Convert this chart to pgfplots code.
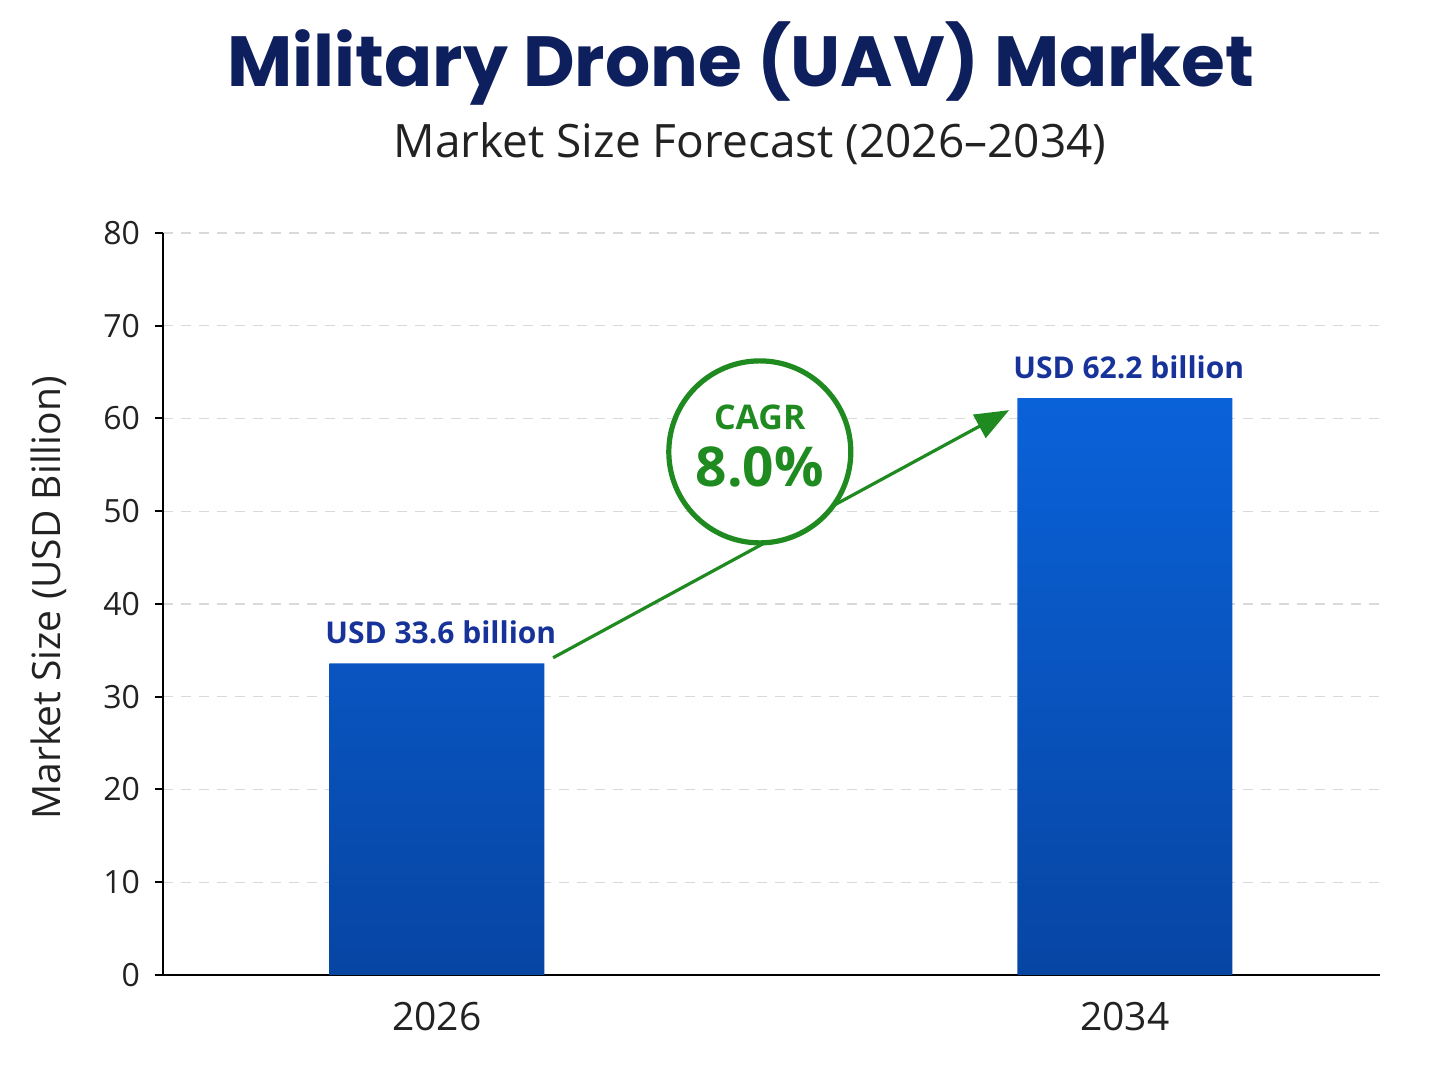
\documentclass[border=0pt]{standalone}
\usepackage{fontspec}
\setmainfont{Open Sans}
\newfontfamily\titlefont{Poppins}
\usepackage{pgfplots}
\pgfplotsset{compat=1.18}
\usetikzlibrary{arrows.meta}

\definecolor{titleNavy}{HTML}{0E1F5E}
\definecolor{subGray}{HTML}{222222}
\definecolor{barTop}{HTML}{0A62D9}
\definecolor{barBot}{HTML}{0745A3}
\definecolor{labelBlue}{HTML}{17339A}
\definecolor{cagrGreen}{HTML}{1F8A1F}
\definecolor{gridGray}{HTML}{D9D9D9}

\begin{document}
\begin{tikzpicture}
\useasboundingbox (0,0) rectangle (724pt,543pt);

% headings
\node[anchor=center, text=titleNavy, font=\titlefont\bfseries\fontsize{35.5}{40}\selectfont]
  at (370.5pt,511pt) {Military Drone (UAV) Market};
\node[anchor=center, text=subGray, font=\fontsize{23}{27}\selectfont]
  at (375pt,471pt) {Market Size Forecast (2026–2034)};

\begin{axis}[
  at={(81.5pt,55.5pt)}, anchor=south west,
  scale only axis, width=608.5pt, height=371pt,
  xmin=-0.398, xmax=1.371,
  ymin=0, ymax=80,
  ytick={0,10,...,80},
  xtick={0,1}, xticklabels={2026,2034},
  axis x line*=bottom, axis y line*=left,
  axis line style={black, line width=1.1pt, -},
  tick align=outside, major tick length=4pt,
  ytick style={black, line width=1pt},
  xtick style={draw=none},
  ymajorgrids,
  major grid style={gridGray, dash pattern=on 5pt off 4pt, line width=0.6pt},
  /pgf/number format/assume math mode=true,
  yticklabel style={font=\fontsize{16}{19}\selectfont, text=subGray, xshift=-4pt},
  xticklabel style={font=\fontsize{19.5}{23}\selectfont, text=subGray, yshift=-6pt},
  ylabel={Market Size (USD Billion)},
  every axis y label/.style={at={(axis description cs:-0.094,0.508)}, rotate=90, anchor=center,
    font=\fontsize{19.5}{23}\selectfont, text=subGray},
  clip=false,
]
\addplot[ybar, bar width=107.5pt, draw=none, top color=barTop, bottom color=barBot,
  nodes near coords={USD \pgfmathprintnumber[fixed, precision=1, fixed zerofill]{\pgfplotspointmeta} billion},
  every node near coord/.style={anchor=south, yshift=6pt, xshift=2pt,
    font=\bfseries\fontsize{15}{18}\selectfont, text=labelBlue},
] coordinates {(0,33.6) (1,62.2)};

% growth arrow and CAGR badge
\draw[cagrGreen, line width=1.6pt, -{Triangle[length=17pt, width=13pt]}]
  (axis cs:0.169,34.2) -- (axis cs:0.832,60.9);
\draw[cagrGreen, line width=2.6pt, fill=white]
  (axis cs:0.4695,56.4) circle[radius=45.5pt];
\node[text=cagrGreen, font=\bfseries\fontsize{17}{20}\selectfont]
  at (axis cs:0.4695,60.1) {CAGR};
\node[text=cagrGreen, font=\bfseries\fontsize{27.5}{32}\selectfont]
  at (axis cs:0.4695,54.8) {8.0\%};
\end{axis}
\end{tikzpicture}
\end{document}
